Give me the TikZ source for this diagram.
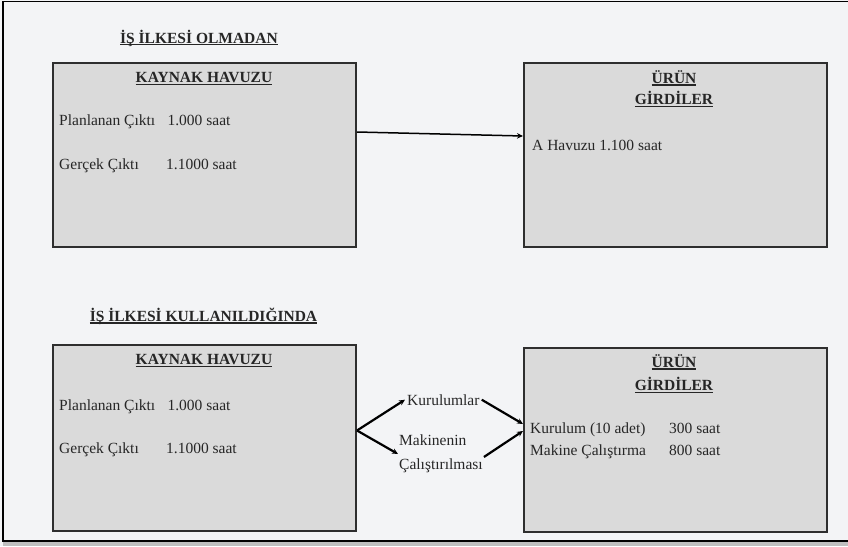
\documentclass[tikz,border=0pt]{standalone}
\usepackage{fontspec}
\setmainfont{Liberation Serif}
\newfontfamily\timesfam{Liberation Serif}
\usetikzlibrary{arrows.meta}
\definecolor{pagebg}{HTML}{F3F4F6}
\definecolor{poolfill}{HTML}{DADADA}
\definecolor{ink}{HTML}{262626}
\definecolor{edge}{HTML}{2E2E2E}
% underline that sits just under the baseline, independent of descenders
\newcommand\undl[1]{\setbox0\hbox{#1}\rlap{\rule[-2.4pt]{\wd0}{1.2pt}}\box0}
\tikzset{
  pool/.style={draw=edge, line width=2pt, fill=poolfill, anchor=north west,
    minimum width=303pt, minimum height=184pt, inner sep=0pt},
  head/.style={font=\timesfam\fontsize{15.5}{18}\selectfont\bfseries, text=ink, inner sep=0pt, align=center},
  body/.style={font=\timesfam\fontsize{15.5}{24}\selectfont, text=ink, inner sep=0pt, anchor=base west},
  flow/.style={line width=1.5pt, draw=black, -{Stealth[length=6pt,width=5.5pt]}},
  fork/.style={flow, line width=2.2pt},
}
\begin{document}
\begin{tikzpicture}[x=1pt,y=-1pt]
\useasboundingbox (0,0) rectangle (848,546);
\fill[pagebg] (0,0) rectangle (848,546);
% page frame
\draw[line width=1.4pt, black] (848,1.5) -- (3,1.5) -- (3,541) -- (848,541);
\fill[black!25] (3,542) rectangle (848,546);

% ---- without the principle ----
\node[head, anchor=center] (t1) at (199,38) {\undl{İŞ İLKESİ OLMADAN}};
\node[pool] (b1) at (52,62) {};
\node[pool] (b2) at (523,62) {};
\node[head] (h1) at (204,79) {\undl{KAYNAK HAVUZU}};
\node[body] (p1) at (59,125) {Planlanan Çıktı\hspace{0.8em}1.000 saat};
\node[body] (g1) at (59,169) {Gerçek Çıktı};
\node[body] (g1v) at (166,169) {1.1000 saat};
\node[head] (u1) at (674,78) {\undl{ÜRÜN}};
\node[head] (r1) at (674,99) {\undl{GİRDİLER}};
\node[body] (a1) at (532,150) {A Havuzu 1.100 saat};
\draw[flow] ([yshift=23pt]b1.east) -- ([yshift=19pt]b2.west);

% ---- with the principle ----
\node[head, anchor=center] (t2) at (203.5,316) {\undl{İŞ İLKESİ KULLANILDIĞINDA}};
\node[pool, minimum height=186pt] (b3) at (52,344) {};
\node[pool] (b4) at (523,347) {};
\node[head] (h3) at (204,361) {\undl{KAYNAK HAVUZU}};
\node[body] (p3) at (59,410) {Planlanan Çıktı\hspace{0.8em}1.000 saat};
\node[body] (g3) at (59,453) {Gerçek Çıktı};
\node[body] (g3v) at (166,453) {1.1000 saat};
\node[head] (u4) at (674,362) {\undl{ÜRÜN}};
\node[head] (r4) at (674,385) {\undl{GİRDİLER}};
\node[body] (k4) at (530,433) {Kurulum (10 adet)};
\node[body] (k4v) at (669,433) {300 saat};
\node[body] (m4) at (530,455) {Makine Çalıştırma};
\node[body] (m4v) at (669,455) {800 saat};

\node[body, inner sep=2pt] (kur) at (405,405) {Kurulumlar};
\node[body, anchor=west, align=left, inner sep=1pt] (mak) at (398,454) {Makinenin\\Çalıştırılması};
\coordinate (split) at ([yshift=7.5pt]b3.east);
\draw[fork] (split) -- (kur.west);
\draw[fork] (split) -- (mak.west);
\draw[fork] (kur.east) -- ([yshift=16pt]b4.west);
\draw[fork] ([yshift=-3pt]mak.east) -- ([yshift=9pt]b4.west);
\end{tikzpicture}
\end{document}
